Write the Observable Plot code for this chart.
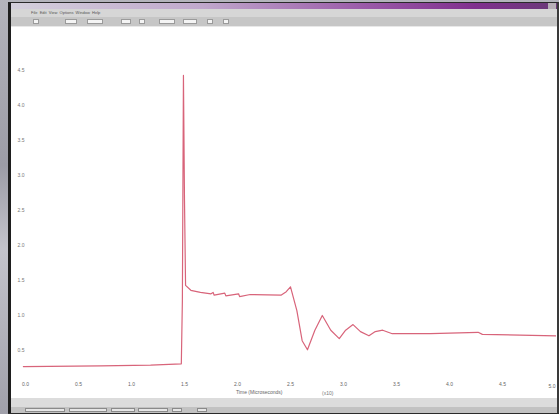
<!DOCTYPE html>
<html>
<head>
<meta charset="utf-8">
<script src="https://cdn.jsdelivr.net/npm/d3@7"></script>
<script src="https://cdn.jsdelivr.net/npm/@observablehq/plot@0.6"></script>
<style>
  html, body { margin: 0; padding: 0; }
  body { width: 559px; height: 414px; position: relative; overflow: hidden;
         background: linear-gradient(to bottom, #b4b4bc, #9c9ca6 40%, #c4c4cc 60%, #a0a0aa); font-family: "Liberation Sans", Arial, sans-serif; }
  #win { position: absolute; left: 8px; top: 2px; width: 551px; height: 412px; background: #fff;
         border-left: 3px solid #1e1e1e; border-top: 1px solid #2a2a2a; box-sizing: border-box; border-right: 2px solid #3a3a3a; }
  #title { position: absolute; left: 11px; top: 3px; width: 546px; height: 6px;
           background: linear-gradient(to right, #d4d0dc, #c0a8cc 35%, #9a5aa8 65%, #80308e 85%, #6a3a78); }
  #close { position: absolute; left: 548px; top: 3px; width: 8px; height: 6px; background: #b8b0b8; }
  #menu { position: absolute; left: 11px; top: 9px; width: 546px; height: 8px; background: #d6d6d6; font-size: 4px; color: #555; line-height: 8px; padding-left: 20px; box-sizing: border-box; }
  #tools { position: absolute; left: 11px; top: 17px; width: 546px; height: 10px; background: #c6c6c6; border-bottom: 1px solid #e8e8e8; box-sizing: border-box; }
  .btn { position: absolute; top: 2px; height: 5px; background: #f4f4f4; border: 1px solid #9a9a9a; box-sizing: border-box; }
  #bottom1 { position: absolute; left: 11px; top: 398px; width: 546px; height: 9px; background: #dcdcdc; }
  #status { position: absolute; left: 11px; top: 407px; width: 546px; height: 6px; background: #c2c2c2; }
  .sbox { position: absolute; top: 1px; height: 4px; background: #e6e6e6; border: 1px solid #8a8a8a; box-sizing: border-box; }
  #bline { position: absolute; left: 8px; top: 413px; width: 551px; height: 1px; background: #2a2a2a; }
  #plot { position: absolute; left: 12px; top: 28px; }
  #xlabel { position: absolute; left: 236px; top: 389px; font-size: 5px; color: #666; }
  #xunit { position: absolute; left: 322px; top: 390px; font-size: 5px; color: #777; }
</style>
</head>
<body>
<div id="win"></div>
<div id="title"></div>
<div id="close"></div>
<div id="menu">File&nbsp;&nbsp;Edit&nbsp;&nbsp;View&nbsp;&nbsp;Options&nbsp;&nbsp;Window&nbsp;&nbsp;Help</div>
<div id="tools">
  <div class="btn" style="left:22px;width:6px"></div>
  <div class="btn" style="left:54px;width:12px"></div>
  <div class="btn" style="left:76px;width:16px"></div>
  <div class="btn" style="left:110px;width:10px"></div>
  <div class="btn" style="left:128px;width:6px"></div>
  <div class="btn" style="left:148px;width:16px"></div>
  <div class="btn" style="left:172px;width:14px"></div>
  <div class="btn" style="left:196px;width:6px"></div>
  <div class="btn" style="left:212px;width:6px"></div>
</div>
<div id="plot"></div>
<div id="xlabel">Time (Microseconds)</div>
<div id="xunit">(x10)</div>
<div id="bottom1"></div>
<div id="status">
  <div class="sbox" style="left:14px;width:40px"></div>
  <div class="sbox" style="left:58px;width:38px"></div>
  <div class="sbox" style="left:100px;width:24px"></div>
  <div class="sbox" style="left:127px;width:30px"></div>
  <div class="sbox" style="left:161px;width:10px"></div>
  <div class="sbox" style="left:186px;width:10px"></div>
</div>
<div id="bline"></div>
<script>
// Trace: time (microseconds) and amplitude
const times = [-0.02, 0.71, 1.18, 1.47, 1.48, 1.49, 1.50, 1.51, 1.56, 1.65, 1.75, 1.77, 1.78,
  1.88, 1.89, 2.01, 2.02, 2.12, 2.41, 2.46, 2.50, 2.56, 2.61, 2.66, 2.73, 2.80, 2.88, 2.96,
  3.02, 3.09, 3.16, 3.24, 3.30, 3.37, 3.46, 3.82, 4.27, 4.31, 5.01];
const amplitude = [0.27, 0.28, 0.29, 0.31, 1.21, 4.43, 2.64, 1.43, 1.36, 1.33, 1.31, 1.33, 1.29,
  1.32, 1.28, 1.31, 1.27, 1.30, 1.29, 1.34, 1.41, 1.07, 0.64, 0.51, 0.79, 1.00, 0.79, 0.67,
  0.79, 0.87, 0.77, 0.71, 0.77, 0.79, 0.74, 0.74, 0.76, 0.73, 0.71];
const xTicks = [0, 0.5, 1, 1.5, 2, 2.5, 3, 3.5, 4, 4.5, 5];
const xTickLabels = ["0.0", "0.5", "1.0", "1.5", "2.0", "2.5", "3.0", "3.5", "4.0", "4.5", "5.0"];
const yTicks = [0.5, 1, 1.5, 2, 2.5, 3, 3.5, 4, 4.5];
const yTickLabels = ["0.5", "1.0", "1.5", "2.0", "2.5", "3.0", "3.5", "4.0", "4.5"];

const trace = times.map((t, i) => ({t, v: amplitude[i]}));
const xInner = xTicks.slice(0, -1);
const xLast = xTicks.slice(-1);

const chart = Plot.plot({
  width: 544,
  height: 370,
  marginLeft: 13,
  marginRight: 1,
  marginTop: 7,
  marginBottom: 13,
  style: {background: "transparent", fontFamily: "Liberation Sans, Arial, sans-serif"},
  x: {domain: [0, 5]},
  y: {domain: [0, 5]},
  marks: [
    Plot.axisX({ticks: xInner, tickFormat: d => xTickLabels[xTicks.indexOf(d)], tickSize: 0, tickPadding: 0, dy: -3, fontSize: 5, fill: "#666", label: null}),
    Plot.text(xLast, {x: d => d, y: 0, text: d => xTickLabels[xTicks.indexOf(d)], textAnchor: "end", dy: 1, fontSize: 5, fill: "#666"}),
    Plot.axisY({ticks: yTicks, tickFormat: d => yTickLabels[yTicks.indexOf(d)], tickSize: 0, tickPadding: 0, dx: -1, fontSize: 5, fill: "#777", label: null}),
    Plot.line(trace, {x: "t", y: "v", stroke: "#d8647a", strokeWidth: 1.2, clip: false})
  ]
});
document.getElementById("plot").appendChild(chart);
</script>
</body>
</html>
